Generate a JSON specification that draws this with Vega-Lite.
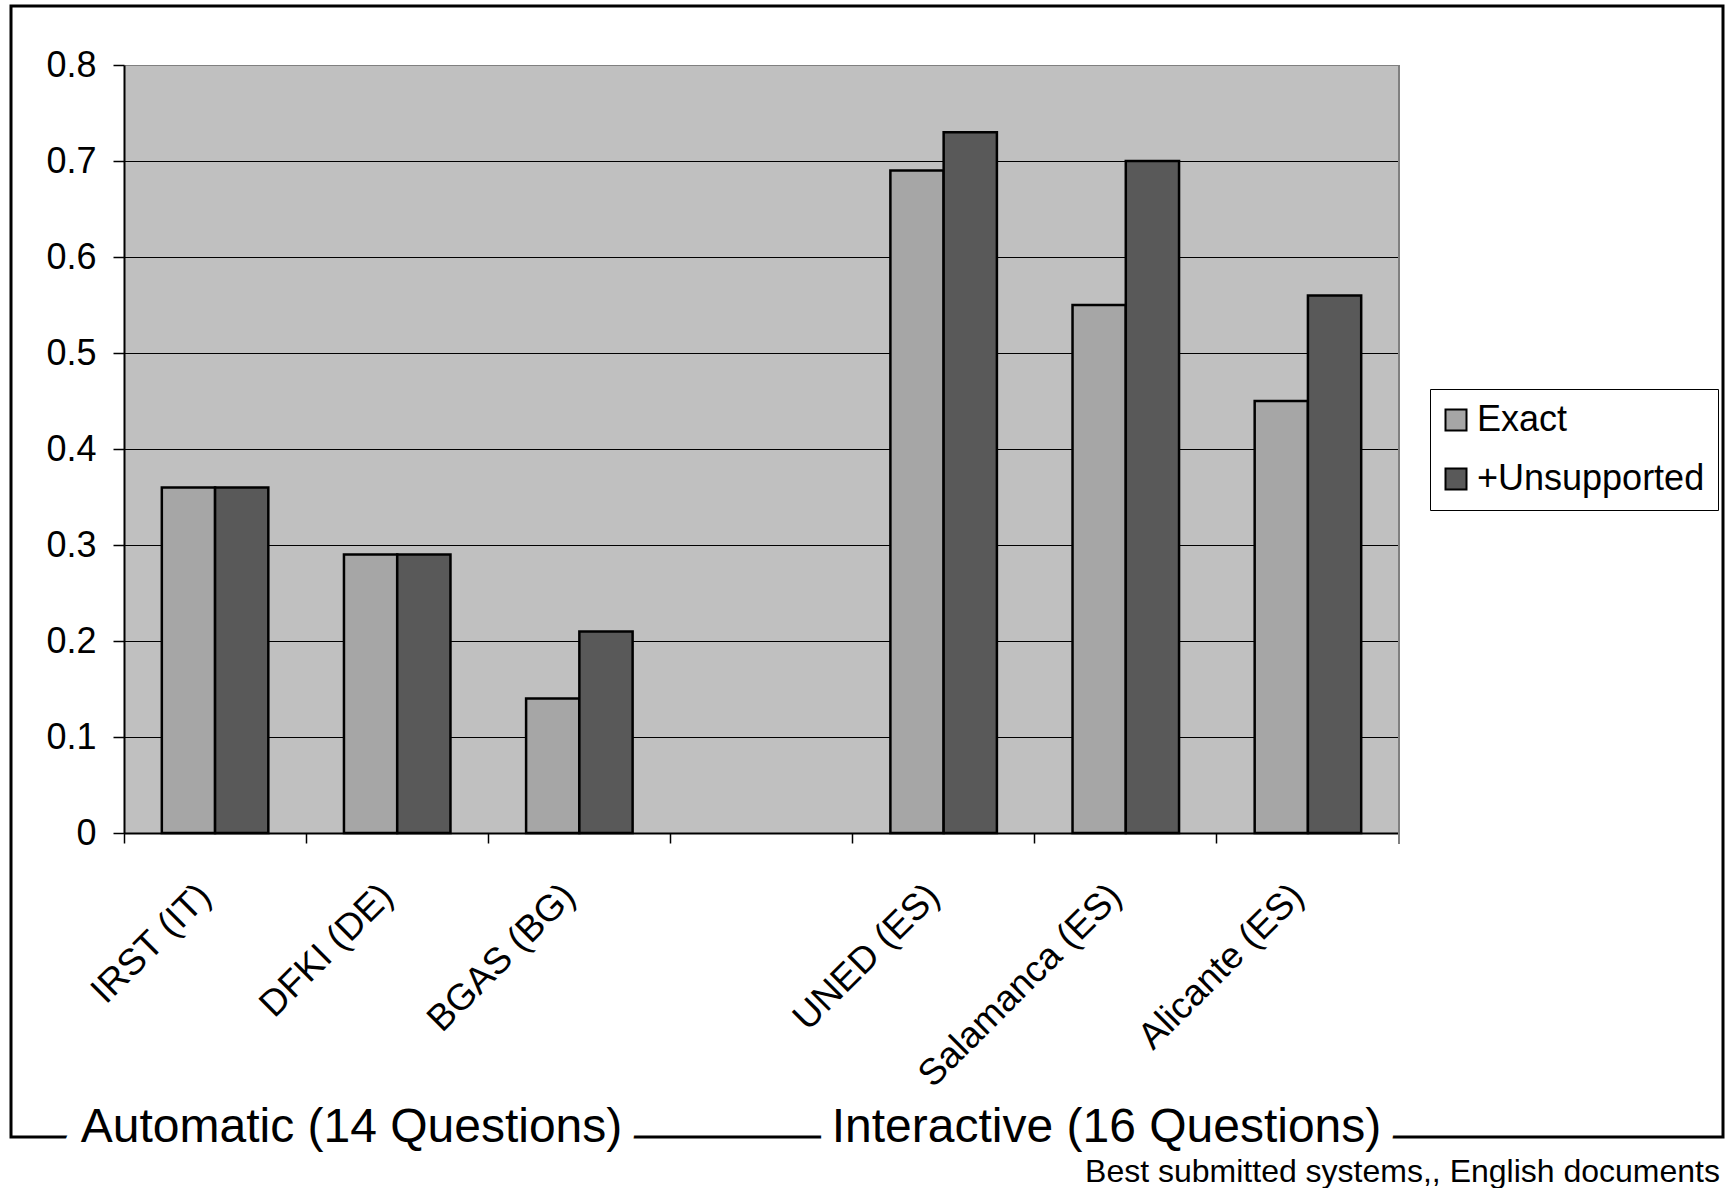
{
  "$schema": "https://vega.github.io/schema/vega-lite/v6.json",
  "width": 1712,
  "height": 1131,
  "autosize": {"type": "none"},
  "padding": {"left": 11, "top": 6, "right": 8, "bottom": 51},
  "background": "white",
  "config": {
    "font": "Liberation Sans",
    "view": {"stroke": "black", "strokeWidth": 3}
  },
  "datasets": {
    "scores": [
      {"system": "IRST (IT)", "series": "Exact", "value": 0.36},
      {"system": "IRST (IT)", "series": "+Unsupported", "value": 0.36},
      {"system": "DFKI (DE)", "series": "Exact", "value": 0.29},
      {"system": "DFKI (DE)", "series": "+Unsupported", "value": 0.29},
      {"system": "BGAS (BG)", "series": "Exact", "value": 0.14},
      {"system": "BGAS (BG)", "series": "+Unsupported", "value": 0.21},
      {"system": "UNED (ES)", "series": "Exact", "value": 0.69},
      {"system": "UNED (ES)", "series": "+Unsupported", "value": 0.73},
      {"system": "Salamanca (ES)", "series": "Exact", "value": 0.55},
      {"system": "Salamanca (ES)", "series": "+Unsupported", "value": 0.70},
      {"system": "Alicante (ES)", "series": "Exact", "value": 0.45},
      {"system": "Alicante (ES)", "series": "+Unsupported", "value": 0.56}
    ]
  },
  "resolve": {"axis": {"x": "independent", "y": "independent"}},
  "layer": [
    {
      "data": {"values": [{}]},
      "mark": {"type": "rule", "opacity": 0},
      "encoding": {
        "x": {"datum": "IRST (IT)", "type": "nominal", "scale": {"domain": ["IRST (IT)", "DFKI (DE)", "BGAS (BG)", "gap", "UNED (ES)", "Salamanca (ES)", "Alicante (ES)"], "range": [113, 1388], "paddingInner": 0, "paddingOuter": 0}, "axis": null},
        "y": {"datum": 0.4, "type": "quantitative", "scale": {"domain": [0, 0.8], "range": [827, 59], "nice": false, "zero": false}, "axis": {"orient": "left", "offset": -113, "values": [0.4], "grid": true, "gridColor": "#C0C0C0", "gridWidth": 768, "gridOpacity": 1, "domain": false, "ticks": false, "labels": false, "title": null}}
      }
    },
    {
      "data": {"values": [{}]},
      "mark": {"type": "rule", "color": "#808080", "strokeWidth": 2},
      "encoding": {
        "x": {"datum": "Alicante (ES)", "type": "nominal", "bandPosition": 1, "scale": {"domain": ["IRST (IT)", "DFKI (DE)", "BGAS (BG)", "gap", "UNED (ES)", "Salamanca (ES)", "Alicante (ES)"], "range": [113, 1388], "paddingInner": 0, "paddingOuter": 0}, "axis": null},
        "y": {"datum": -0.0115, "type": "quantitative", "scale": {"domain": [0, 0.8], "range": [827, 59], "nice": false, "zero": false}, "axis": null},
        "y2": {"datum": 0.8}
      }
    },
    {
      "data": {"name": "scores"},
      "mark": {"type": "bar", "stroke": "black", "strokeWidth": 2.5},
      "encoding": {
        "x": {
          "field": "system", "type": "nominal",
          "scale": {"domain": ["IRST (IT)", "DFKI (DE)", "BGAS (BG)", "gap", "UNED (ES)", "Salamanca (ES)", "Alicante (ES)"], "range": [113, 1388], "paddingInner": 0, "paddingOuter": 0},
          "axis": {"orient": "bottom", "offset": -304, "bandPosition": 0, "domainColor": "black", "domainWidth": 2, "tickColor": "black", "tickWidth": 1.5, "tickSize": 10, "labelAngle": -45, "labelAlign": "right", "labelBaseline": "middle", "labelFontSize": 37, "labelColor": "black", "labelOffset": -10, "labelPadding": 47, "labelLimit": 0, "labelOverlap": false, "labelBound": false, "labelExpr": "datum.value == 'gap' ? '' : datum.label", "title": null, "grid": false}
        },
        "xOffset": {"field": "series", "type": "nominal", "scale": {"domain": ["Exact", "+Unsupported"], "paddingInner": 0, "paddingOuter": 0.71}},
        "y": {
          "field": "value", "type": "quantitative",
          "scale": {"domain": [0, 0.8], "range": [827, 59], "nice": false, "zero": false},
          "axis": {"orient": "left", "offset": -113, "values": [0, 0.1, 0.2, 0.3, 0.4, 0.5, 0.6, 0.7, 0.8], "format": ".1~f", "grid": true, "gridColor": {"condition": {"test": "datum.value > 0.79", "value": "#808080"}, "value": "black"}, "gridWidth": 1.2, "gridOpacity": 1, "domainColor": "black", "domainWidth": 2, "tickColor": "black", "tickWidth": 1.5, "tickSize": 11, "labelFontSize": 36, "labelColor": "black", "labelPadding": 17, "labelOverlap": false, "labelBound": false, "labelFlush": false, "title": null}
        },
        "color": {
          "field": "series", "type": "nominal",
          "scale": {"domain": ["Exact", "+Unsupported"], "range": ["#A6A6A6", "#595959"]},
          "legend": {"title": null, "orient": "none", "legendX": 1419, "legendY": 383, "padding": 13, "strokeColor": "black", "fillColor": "white", "symbolType": "square", "symbolSize": 441, "symbolStrokeColor": "black", "symbolStrokeWidth": 2, "symbolOpacity": 1, "symbolOffset": -5, "labelFontSize": 36, "labelColor": "black", "labelOffset": 3, "labelLimit": 0, "rowPadding": 23}
        }
      }
    },
    {
      "data": {"values": [{"label": "Automatic (14 Questions)"}]},
      "encoding": {
        "x": {"datum": "DFKI (DE)", "type": "nominal", "bandPosition": 0.249, "scale": {"domain": ["IRST (IT)", "DFKI (DE)", "BGAS (BG)", "gap", "UNED (ES)", "Salamanca (ES)", "Alicante (ES)"], "range": [113, 1388], "paddingInner": 0, "paddingOuter": 0}, "axis": null},
        "y": {"datum": -0.322, "type": "quantitative", "scale": {"domain": [0, 0.8], "range": [827, 59], "nice": false, "zero": false}, "axis": null},
        "text": {"field": "label"}
      },
      "layer": [
        {"mark": {"type": "text", "fontSize": 48, "align": "center", "baseline": "alphabetic", "fill": "white", "stroke": "white", "strokeWidth": 30}},
        {"mark": {"type": "text", "fontSize": 48, "align": "center", "baseline": "alphabetic", "fill": "black"}}
      ]
    },
    {
      "data": {"values": [{"label": "Interactive (16 Questions)"}]},
      "encoding": {
        "x": {"datum": "Salamanca (ES)", "type": "nominal", "bandPosition": 0.394, "scale": {"domain": ["IRST (IT)", "DFKI (DE)", "BGAS (BG)", "gap", "UNED (ES)", "Salamanca (ES)", "Alicante (ES)"], "range": [113, 1388], "paddingInner": 0, "paddingOuter": 0}, "axis": null},
        "y": {"datum": -0.322, "type": "quantitative", "scale": {"domain": [0, 0.8], "range": [827, 59], "nice": false, "zero": false}, "axis": null},
        "text": {"field": "label"}
      },
      "layer": [
        {"mark": {"type": "text", "fontSize": 48, "align": "center", "baseline": "alphabetic", "fill": "white", "stroke": "white", "strokeWidth": 30}},
        {"mark": {"type": "text", "fontSize": 48, "align": "center", "baseline": "alphabetic", "fill": "black"}}
      ]
    },
    {
      "data": {"values": [{"label": "Best submitted systems,, English documents"}]},
      "mark": {"type": "text", "fontSize": 32, "align": "right", "baseline": "alphabetic", "fill": "black", "dx": -3},
      "encoding": {
        "x": {"value": "width"},
        "y": {"datum": -0.364, "type": "quantitative", "scale": {"domain": [0, 0.8], "range": [827, 59], "nice": false, "zero": false}, "axis": null},
        "text": {"field": "label"}
      }
    }
  ]
}
